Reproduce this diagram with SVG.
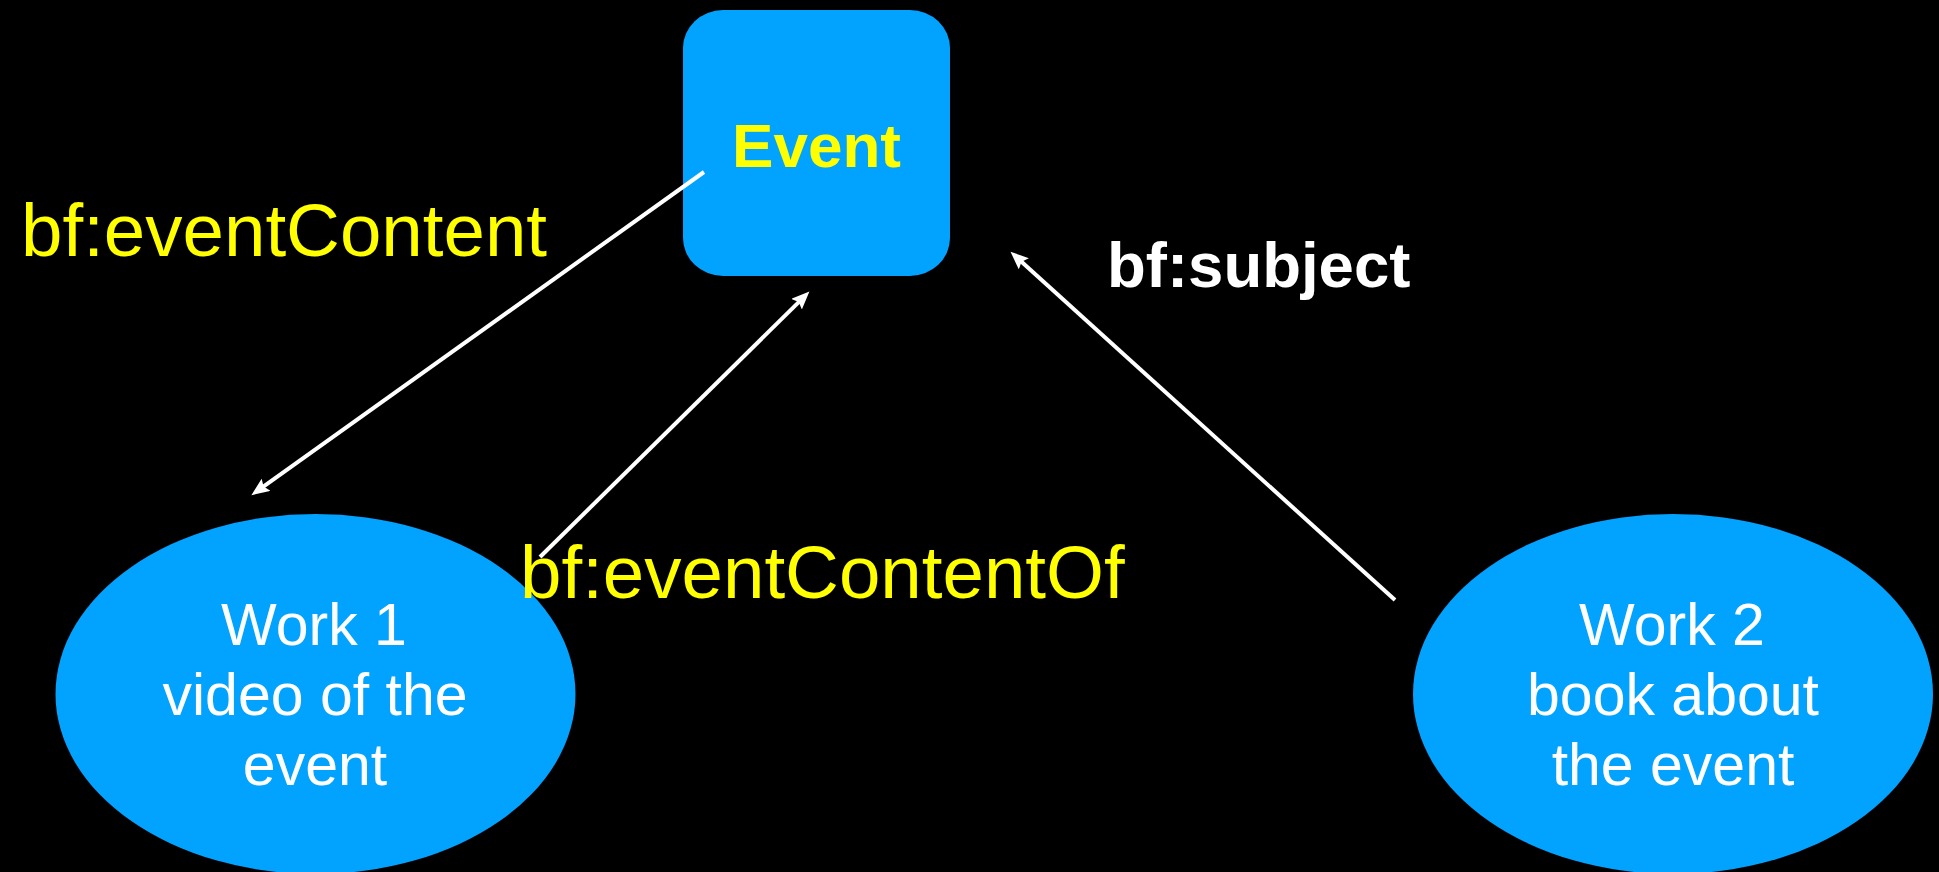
<svg xmlns="http://www.w3.org/2000/svg" width="1939" height="872" viewBox="0 0 1939 872">
<style>
.node{fill:#02A3FF}
.lbl{font-family:"Liberation Sans",Arial,sans-serif}
.wt{fill:#FFFFFF;font-size:59px;text-anchor:middle}
.edge{stroke:#FFFFFF;stroke-width:4;fill:none;marker-end:url(#ah)}
.yl{fill:#FFFF00;font-size:74.5px}
</style>
<defs>
<marker id="ah" markerUnits="userSpaceOnUse" markerWidth="19" markerHeight="16" refX="8" refY="7.5" orient="auto">
<path d="M0,0 L18,7.5 L0,15 L3,7.5 z" fill="#FFFFFF"/>
</marker>
</defs>
<rect width="1939" height="872" fill="#000000"/>
<g id="event">
<rect class="node" x="683" y="10" width="267" height="266" rx="40" ry="38"/>
<text class="lbl" x="816.5" y="167" fill="#FFFF00" font-size="62" font-weight="bold" text-anchor="middle">Event</text>
</g>
<g id="work1">
<ellipse class="node" cx="315.5" cy="694" rx="260" ry="180"/>
<text class="lbl wt" x="314" y="645">Work 1</text>
<text class="lbl wt" x="315" y="715">video of the</text>
<text class="lbl wt" x="315" y="785">event</text>
</g>
<g id="work2">
<ellipse class="node" cx="1673" cy="694" rx="260" ry="180"/>
<text class="lbl wt" x="1672" y="645">Work 2</text>
<text class="lbl wt" x="1673" y="715">book about</text>
<text class="lbl wt" x="1673" y="785">the event</text>
</g>
<g id="connectors">
<line class="edge" x1="704" y1="172" x2="259.5" y2="489.4"/>
<line class="edge" x1="540" y1="557" x2="802.3" y2="298.6"/>
<line class="edge" x1="1395" y1="600" x2="1017.9" y2="258.4"/>
</g>
<g id="edge-labels">
<text class="lbl yl" x="21" y="256">bf:eventContent</text>
<text class="lbl yl" x="520" y="598">bf:eventContentOf</text>
<text class="lbl" x="1107" y="287" fill="#FFFFFF" font-size="63.5" font-weight="bold">bf:subject</text>
</g>
</svg>
